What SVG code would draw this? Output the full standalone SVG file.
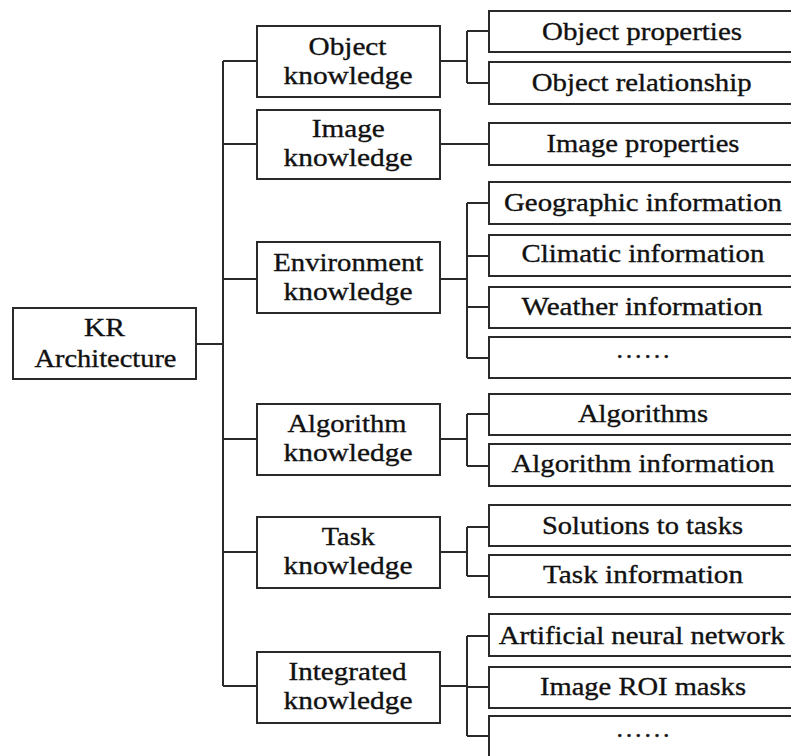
<svg xmlns="http://www.w3.org/2000/svg" width="791" height="756" viewBox="0 0 791 756">
<style>
rect.box{fill:#fff;stroke:#2a2a2a;stroke-width:2}
#connectors path{fill:none;stroke:#2a2a2a;stroke-width:2}
text{stroke:#111;stroke-width:0.35px}
</style>
<rect width="791" height="756" fill="#fff"/>
<g id="connectors">
<path d="M197 344H223M223 61V686M223 61H256M223 144H256M223 279H256M223 439H256M223 552H256M223 686H256"/>
<path d="M441 61H467M467 31V83M467 31H488M467 83H488"/>
<path d="M441 144H488"/>
<path d="M441 279H467M467 203V358M467 203H488M467 256H488M467 307H488M467 358H488"/>
<path d="M441 439H467M467 414V466M467 414H488M467 466H488"/>
<path d="M441 552H467M467 527V576M467 527H488M467 576H488"/>
<path d="M441 686H467M467 636V736M467 636H488M467 687H488M467 736H488"/>
</g>
<g font-family="Liberation Serif" font-size="26" fill="#111" text-anchor="middle">
<g id="root">
<rect class="box" x="13" y="308" width="183" height="71"/>
<text x="104.5" y="336" textLength="41" lengthAdjust="spacingAndGlyphs">KR</text>
<text x="105.5" y="366.5" textLength="142" lengthAdjust="spacingAndGlyphs">Architecture</text>
</g>
<g id="object-knowledge">
<rect class="box" x="257" y="26" width="183" height="71"/>
<text x="347.5" y="54.5" textLength="78" lengthAdjust="spacingAndGlyphs">Object</text>
<text x="348" y="83.5" textLength="129" lengthAdjust="spacingAndGlyphs">knowledge</text>
</g>
<g id="image-knowledge">
<rect class="box" x="257" y="110" width="183" height="69"/>
<text x="348.3" y="137" textLength="73" lengthAdjust="spacingAndGlyphs">Image</text>
<text x="348" y="166" textLength="129" lengthAdjust="spacingAndGlyphs">knowledge</text>
</g>
<g id="environment-knowledge">
<rect class="box" x="257" y="242" width="183" height="71"/>
<text x="348.3" y="271" textLength="150" lengthAdjust="spacingAndGlyphs">Environment</text>
<text x="348" y="299.5" textLength="129" lengthAdjust="spacingAndGlyphs">knowledge</text>
</g>
<g id="algorithm-knowledge">
<rect class="box" x="257" y="404" width="183" height="71"/>
<text x="347" y="432" textLength="119" lengthAdjust="spacingAndGlyphs">Algorithm</text>
<text x="348" y="461" textLength="129" lengthAdjust="spacingAndGlyphs">knowledge</text>
</g>
<g id="task-knowledge">
<rect class="box" x="257" y="517" width="183" height="71"/>
<text x="348.3" y="545" textLength="53" lengthAdjust="spacingAndGlyphs">Task</text>
<text x="348" y="574" textLength="129" lengthAdjust="spacingAndGlyphs">knowledge</text>
</g>
<g id="integrated-knowledge">
<rect class="box" x="257" y="652" width="183" height="71"/>
<text x="347.5" y="680" textLength="118" lengthAdjust="spacingAndGlyphs">Integrated</text>
<text x="348" y="709" textLength="129" lengthAdjust="spacingAndGlyphs">knowledge</text>
</g>
<g id="object-properties">
<rect class="box" x="489" y="11" width="310" height="41"/>
<text x="642" y="39.5" textLength="200" lengthAdjust="spacingAndGlyphs">Object properties</text>
</g>
<g id="object-relationship">
<rect class="box" x="489" y="62" width="310" height="42"/>
<text x="641.7" y="90.5" textLength="220" lengthAdjust="spacingAndGlyphs">Object relationship</text>
</g>
<g id="image-properties">
<rect class="box" x="489" y="123" width="310" height="42"/>
<text x="643" y="152" textLength="193" lengthAdjust="spacingAndGlyphs">Image properties</text>
</g>
<g id="geographic-information">
<rect class="box" x="489" y="182" width="310" height="42"/>
<text x="643" y="210.5" textLength="278" lengthAdjust="spacingAndGlyphs">Geographic information</text>
</g>
<g id="climatic-information">
<rect class="box" x="489" y="235" width="310" height="41"/>
<text x="643" y="262" textLength="243" lengthAdjust="spacingAndGlyphs">Climatic information</text>
</g>
<g id="weather-information">
<rect class="box" x="489" y="287" width="310" height="41"/>
<text x="642" y="315" textLength="241" lengthAdjust="spacingAndGlyphs">Weather information</text>
</g>
<g id="env-more">
<rect class="box" x="489" y="337" width="310" height="41"/>
<text x="643" y="358" textLength="53" lengthAdjust="spacing">......</text>
</g>
<g id="algorithms">
<rect class="box" x="489" y="394" width="310" height="41"/>
<text x="643" y="422" textLength="130" lengthAdjust="spacingAndGlyphs">Algorithms</text>
</g>
<g id="algorithm-information">
<rect class="box" x="489" y="444" width="310" height="42"/>
<text x="643" y="472" textLength="263" lengthAdjust="spacingAndGlyphs">Algorithm information</text>
</g>
<g id="solutions-to-tasks">
<rect class="box" x="489" y="505" width="310" height="41"/>
<text x="642.5" y="533.5" textLength="201" lengthAdjust="spacingAndGlyphs">Solutions to tasks</text>
</g>
<g id="task-information">
<rect class="box" x="489" y="555" width="310" height="42"/>
<text x="643" y="582.5" textLength="200" lengthAdjust="spacingAndGlyphs">Task information</text>
</g>
<g id="artificial-neural-network">
<rect class="box" x="489" y="614" width="310" height="42"/>
<text x="641.7" y="644" textLength="286" lengthAdjust="spacingAndGlyphs">Artificial neural network</text>
</g>
<g id="image-roi-masks">
<rect class="box" x="489" y="667" width="310" height="41"/>
<text x="643" y="694.5" textLength="206" lengthAdjust="spacingAndGlyphs">Image ROI masks</text>
</g>
<g id="integrated-more">
<rect class="box" x="489" y="716" width="310" height="60"/>
<text x="643" y="737" textLength="53" lengthAdjust="spacing">......</text>
</g>
</g>
</svg>
